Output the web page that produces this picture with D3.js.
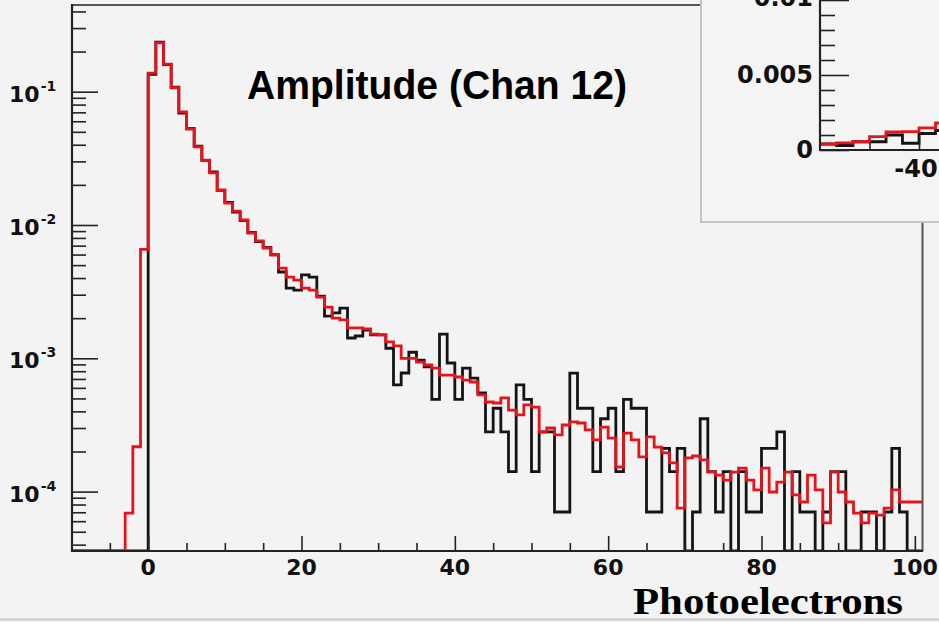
<!DOCTYPE html>
<html><head><meta charset="utf-8">
<script src="https://cdn.jsdelivr.net/npm/d3@7"></script>
<style>html,body{margin:0;padding:0;background:#f3f3f3;} svg{display:block}</style>
</head><body><svg id="c" width="939" height="622"></svg>
<script>
// ---------- data ----------
const binStart = -10;              // first bin lower edge (Photoelectrons), unit-width bins
const titleText = "Amplitude (Chan 12)";
const xAxisTitle = "Photoelectrons";
const xMajorTicks = [0, 20, 40, 60, 80, 100];
const xMinorTicks = [-5, 5, 10, 15, 25, 30, 35, 45, 50, 55, 65, 70, 75, 85, 90, 95];
const yDecades = [-1, -2, -3, -4];

// red histogram (k = -10 .. 100)
const redVals = [0,0,0,0,0,0,0, 6.9e-5, 2.17e-4, 6.57e-3,
 0.138, 0.232, 0.161, 0.107, 0.0705, 0.0525, 0.0385, 0.0307, 0.0246, 0.0183,
 0.0146, 0.0127, 0.0109, 0.00871, 0.00759, 0.00672, 0.00595, 0.00475, 0.00407, 0.00386,
 0.00336, 0.00325, 0.00288, 0.00242, 0.00200, 0.00194, 0.00169, 0.00169, 0.00166, 0.00152,
 0.00150, 0.00133, 0.00124, 0.00100, 0.00100, 0.000937, 0.000891, 0.000845, 0.000749, 0.000749,
 0.000724, 0.000687, 0.000664, 0.000531, 0.000470, 0.000462, 0.000504, 0.000409, 0.000376, 0.000447,
 0.000431, 0.000280, 0.000300, 0.000266, 0.000316, 0.000333, 0.000327, 0.000290, 0.000244, 0.000305,
 0.000252, 0.000153, 0.000275, 0.000244, 0.000182, 0.000257, 0.000216, 0.000195, 0.000164, 0.0000753,
 0.000179, 0.000185, 0.000173, 0.000140, 0.000133, 0.000122, 0.000140, 0.000150, 0.000122, 0.000103,
 0.000150, 0.0000993, 0.000118, 0.000140, 0.0000944, 0.0000836, 0.000133, 0.000103, 0.0000582, 0.000140,
 0.0000993, 0.0000836, 0.0000690, 0.0000582, 0.0000690, 0.0000667, 0.0000753, 0.000103, 0.0000836, 0.0000836,
 0.0000836];

// black histogram (k = -10 .. 100)
const blackVals = [0,0,0,0,0,0,0,0,0,0,
 0.135, 0.235, 0.16, 0.108, 0.069, 0.053, 0.039, 0.0305, 0.025, 0.0182,
 0.0148, 0.0125, 0.0108, 0.0088, 0.0075, 0.0068, 0.0060, 0.00444, 0.00336, 0.00325,
 0.00422, 0.00407, 0.00293, 0.00207, 0.00219, 0.00238, 0.00142, 0.00147, 0.00163, 0.00150,
 0.00150, 0.00119, 0.000631, 0.000776, 0.00111, 0.000970, 0.000861, 0.000492, 0.00152, 0.000922,
 0.000492, 0.000845, 0.000711, 0.000550, 0.000281, 0.000422, 0.000281, 0.000141, 0.000633, 0.000492,
 0.000141, 0.000281, 0.000281, 0.0000703, 0.0000703, 0.000773, 0.000422, 0.000422, 0.000141, 0.000352,
 0.000422, 0.000141, 0.000492, 0.000422, 0.000422, 0.0000703, 0.0000703, 0.000211, 0.000141, 0.000211,
 0, 0.0000703, 0.000352, 0.000141, 0.0000703, 0.000141, 0, 0.000141, 0.0000703, 0.0000703,
 0.000211, 0.000211, 0.000281, 0, 0.000141, 0.0000703, 0.0000703, 0, 0.0000703, 0.000141,
 0.000141, 0, 0, 0.0000703, 0.0000703, 0, 0.0000703, 0.000211, 0.0000703, 0,
 0];

// inset (linear scale, partially visible)
const insetEdges = [-50, -48.33, -46.67, -45, -43.33, -41.67, -40, -38.33, -36.67];
const insetRed   = [0.0004, 0.00047, 0.00055, 0.00089, 0.0012, 0.00122, 0.00147, 0.0018];
const insetBlack = [0.0004, 0.0003, 0.00055, 0.00055, 0.001, 0.00045, 0.0011, 0.0013];
const insetYTicksMajor = [0, 0.005, 0.01];
const insetYLabels = ["0", "0.005", "0.01"];
const insetYTicksMinor = [0.001, 0.002, 0.003, 0.004, 0.006, 0.007, 0.008, 0.009];
const insetXMajor = [-40];
const insetXMinor = [-45];

// ---------- drawing ----------
const svg = d3.select("#c");
const W = 939, H = 622;
svg.append("rect").attr("width", W).attr("height", H).attr("fill", "#f3f3f3");

const x = d3.scaleLinear().domain([-10, 101]).range([71.5, 922.5]);
const yMin = 3.585e-5, yMax = 0.447;
const y = d3.scaleLog().domain([yMin, yMax]).range([551, 5]);

const binLow = d3.range(redVals.length).map(i => binStart + i);

svg.append("clipPath").attr("id", "plotclip").append("rect")
  .attr("x", 71.5).attr("y", 4).attr("width", 851).attr("height", 548);

function stepPts(vals, xs, ys, lows, w, floor) {
  const pts = [];
  vals.forEach((v, i) => {
    const yy = v > 0 ? ys(Math.max(v, floor)) : ys(floor);
    pts.push([xs(lows[i]), yy], [xs(lows[i] + w), yy]);
  });
  return pts;
}

const LW = 2.8;
const g = svg.append("g").attr("clip-path", "url(#plotclip)");
g.append("path").attr("d", d3.line()(stepPts(blackVals, x, y, binLow, 1, yMin)))
  .attr("fill", "none").attr("stroke", "#141414").attr("stroke-width", LW).attr("stroke-linejoin", "miter");
g.append("path").attr("d", d3.line()(stepPts(redVals, x, y, binLow, 1, yMin)))
  .attr("fill", "none").attr("stroke", "#e5141c").attr("stroke-width", LW).attr("stroke-linejoin", "miter");

// frame
svg.append("line").attr("x1", 72).attr("x2", 922.5).attr("y1", 5).attr("y2", 5).attr("stroke", "#555").attr("stroke-width", 2);
svg.append("line").attr("x1", 922.5).attr("x2", 922.5).attr("y1", 5).attr("y2", 551).attr("stroke", "#555").attr("stroke-width", 2);

// y axis ticks
const majorY = yDecades.map(d => Math.pow(10, d));
const minorY = [];
[-5, -4, -3, -2, -1].forEach(d => { for (let m = 2; m <= 9; m++) { const v = m * Math.pow(10, d); if (v > yMin && v < yMax) minorY.push(v); } });
const yAxMaj = svg.append("g").attr("transform", "translate(72,0)")
  .call(d3.axisRight(y).tickValues(majorY).tickSize(26).tickFormat(""));
const yAxMin = svg.append("g").attr("transform", "translate(72,0)")
  .call(d3.axisRight(y).tickValues(minorY).tickSize(14).tickFormat(""));
[yAxMaj, yAxMin].forEach(a => { a.select(".domain").remove(); a.selectAll("line").attr("stroke", "#222").attr("stroke-width", 1.6); });

// x axis ticks
const xAxMaj = svg.append("g").attr("transform", "translate(0,551)")
  .call(d3.axisTop(x).tickValues(xMajorTicks).tickSize(15).tickFormat(""));
const xAxMin = svg.append("g").attr("transform", "translate(0,551)")
  .call(d3.axisTop(x).tickValues(xMinorTicks).tickSize(8).tickFormat(""));
[xAxMaj, xAxMin].forEach(a => { a.select(".domain").remove(); a.selectAll("line").attr("stroke", "#222").attr("stroke-width", 1.6); });

// axis lines
svg.append("line").attr("x1", 72).attr("x2", 72).attr("y1", 4).attr("y2", 552).attr("stroke", "#222").attr("stroke-width", 2.2);
svg.append("line").attr("x1", 71).attr("x2", 923).attr("y1", 551).attr("y2", 551).attr("stroke", "#222").attr("stroke-width", 2.2);

// x labels
svg.append("g").selectAll("text").data(xMajorTicks).join("text")
  .attr("x", d => x(d)).attr("y", 575).attr("text-anchor", "middle")
  .attr("font-family", "DejaVu Sans").attr("font-weight", "bold").attr("font-size", 22)
  .attr("fill", "#111").text(d => d);

// y labels 10^n
const yl = svg.append("g").selectAll("text").data(yDecades).join("text")
  .attr("x", 9).attr("y", d => y(Math.pow(10, d)) + 10)
  .attr("font-family", "DejaVu Sans").attr("font-weight", "bold").attr("font-size", 22).attr("fill", "#111");
yl.append("tspan").text("10");
yl.append("tspan").attr("font-size", 14).attr("dy", -11).attr("dx", 1).text(d => String(d));

// title
svg.append("text").attr("x", 247).attr("y", 99)
  .attr("font-family", "Liberation Sans, Arial, sans-serif").attr("font-weight", "bold").attr("font-size", 40)
  .attr("textLength", 380).attr("lengthAdjust", "spacingAndGlyphs").attr("fill", "#000").text(titleText);

// x axis title
svg.append("text").attr("x", 633).attr("y", 614)
  .attr("font-family", "Liberation Serif, Times New Roman, serif").attr("font-weight", "bold").attr("font-size", 37)
  .attr("textLength", 270).attr("lengthAdjust", "spacingAndGlyphs").attr("fill", "#000").text(xAxisTitle);

// bottom strip line
svg.append("line").attr("x1", 0).attr("x2", W).attr("y1", 619.5).attr("y2", 619.5).attr("stroke", "#c8c8c8").attr("stroke-width", 2);

// ---------- inset ----------
const ins = svg.append("g");
ins.append("rect").attr("x", 701).attr("y", -5).attr("width", 250).attr("height", 227)
  .attr("fill", "#f4f4f4").attr("stroke", "#c4c4c4").attr("stroke-width", 2);
const ix = d3.scaleLinear().domain([-50, -37.9]).range([820, 939.8]);
const iy = d3.scaleLinear().domain([0, 0.01]).range([150, 0]);
svg.append("clipPath").attr("id", "insclip").append("rect")
  .attr("x", 820).attr("y", -5).attr("width", 130).attr("height", 156);
const ig = ins.append("g").attr("clip-path", "url(#insclip)");
function insetPts(vals) {
  const pts = [];
  vals.forEach((v, i) => { pts.push([ix(insetEdges[i]), iy(v)], [ix(insetEdges[i + 1]), iy(v)]); });
  return pts;
}
ig.append("path").attr("d", d3.line()(insetPts(insetBlack))).attr("fill", "none").attr("stroke", "#141414").attr("stroke-width", LW);
ig.append("path").attr("d", d3.line()(insetPts(insetRed))).attr("fill", "none").attr("stroke", "#e5141c").attr("stroke-width", LW);

const iyMaj = ins.append("g").attr("transform", "translate(820,0)")
  .call(d3.axisRight(iy).tickValues(insetYTicksMajor).tickSize(29).tickFormat(""));
const iyMin = ins.append("g").attr("transform", "translate(820,0)")
  .call(d3.axisRight(iy).tickValues(insetYTicksMinor).tickSize(15).tickFormat(""));
const ixMaj = ins.append("g").attr("transform", "translate(0,150)")
  .call(d3.axisTop(ix).tickValues(insetXMajor).tickSize(15).tickFormat(""));
const ixMin = ins.append("g").attr("transform", "translate(0,150)")
  .call(d3.axisTop(ix).tickValues(insetXMinor).tickSize(8).tickFormat(""));
[iyMaj, iyMin, ixMaj, ixMin].forEach(a => { a.select(".domain").remove(); a.selectAll("line").attr("stroke", "#222").attr("stroke-width", 1.6); });
ins.append("line").attr("x1", 820).attr("x2", 820).attr("y1", -5).attr("y2", 151).attr("stroke", "#222").attr("stroke-width", 2.2);
ins.append("line").attr("x1", 819).attr("x2", 945).attr("y1", 150).attr("y2", 150).attr("stroke", "#222").attr("stroke-width", 2.2);

ins.append("g").selectAll("text").data(insetYTicksMajor).join("text")
  .attr("x", 813).attr("y", (d, i) => iy(d) + 8 - (i === 2 ? 2 : 0)).attr("text-anchor", "end")
  .attr("font-family", "DejaVu Sans").attr("font-weight", "bold").attr("font-size", 24).attr("fill", "#111")
  .text((d, i) => insetYLabels[i]);
ins.append("g").selectAll("text").data(insetXMajor).join("text")
  .attr("x", d => ix(d) - 3).attr("y", 177).attr("text-anchor", "middle")
  .attr("font-family", "DejaVu Sans").attr("font-weight", "bold").attr("font-size", 24).attr("fill", "#111")
  .text(d => d);
</script></body></html>
